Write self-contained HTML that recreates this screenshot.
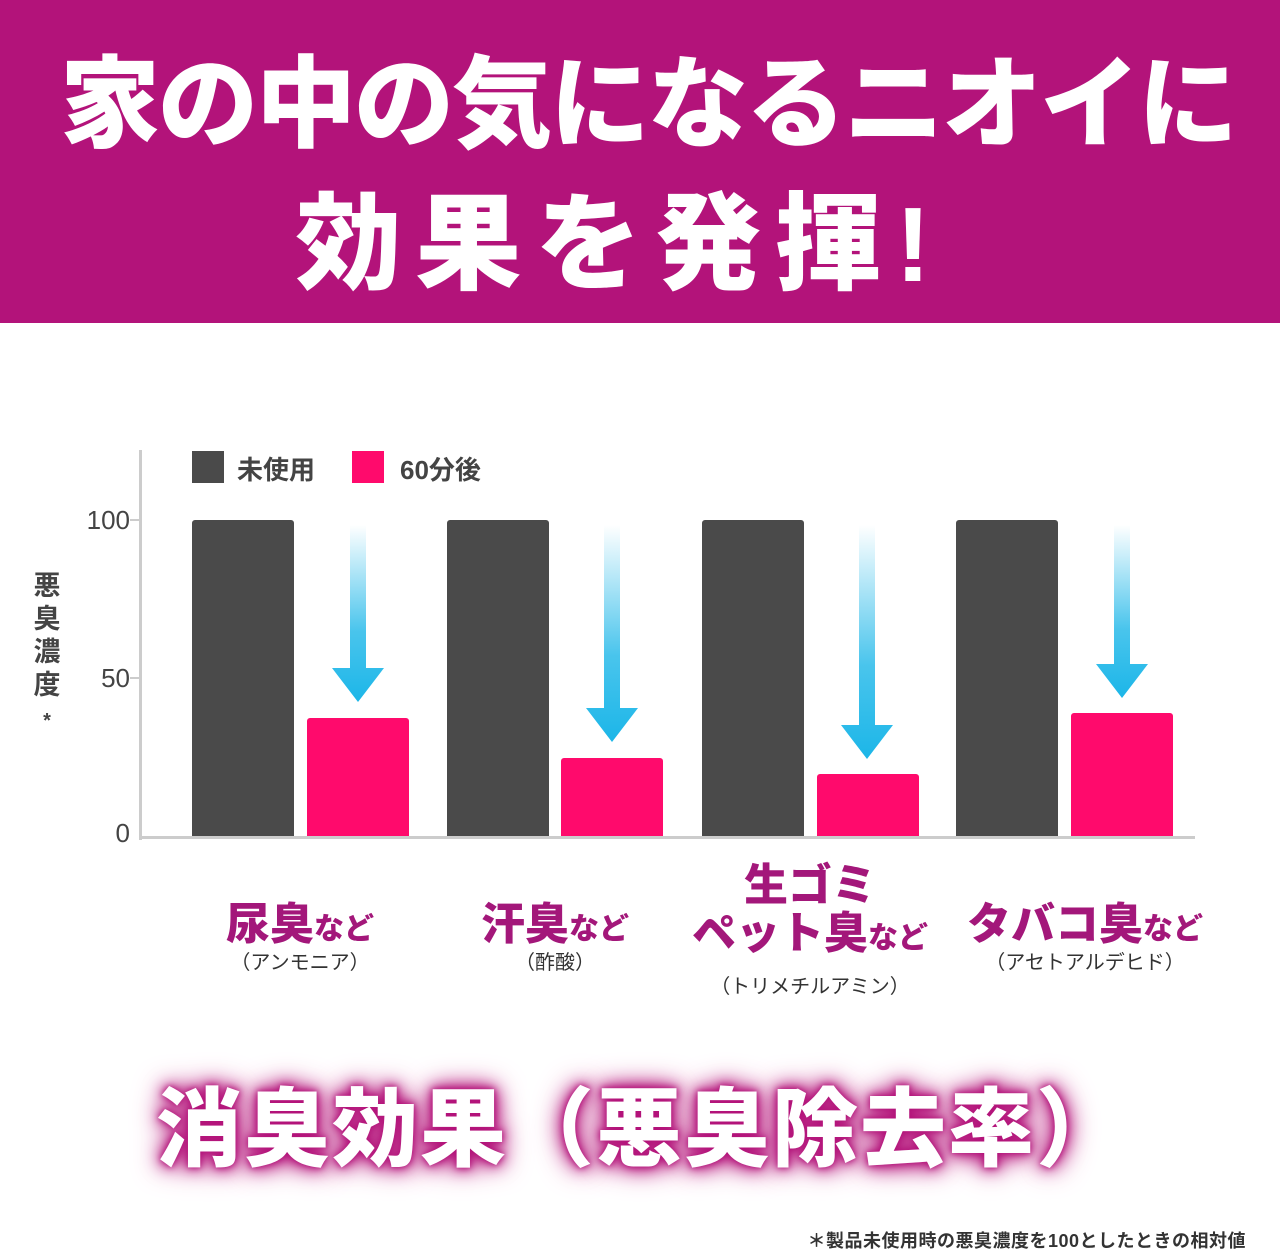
<!DOCTYPE html>
<html><head><meta charset="utf-8"><style>
*{margin:0;padding:0}
body{width:1280px;height:1250px;background:#fff;position:relative;overflow:hidden;font-family:"Liberation Sans","Noto Sans CJK JP",sans-serif}
.hdr{position:absolute;left:0;top:0;width:1280px;height:323px;background:#b3137a}
.t{position:absolute;left:0;width:1280px;text-align:center;color:#fff;font-weight:900;white-space:nowrap}
.abs{position:absolute}
.g{background:#4a4a4a;position:absolute;border-radius:3px 3px 0 0}
.p{background:#ff0a6c;position:absolute;border-radius:3px 3px 0 0}
.lab{position:absolute;text-align:center;color:#a3177a;font-weight:900;white-space:nowrap}
.sub{position:absolute;text-align:center;color:#333;font-size:20px;white-space:nowrap}
</style></head><body>
<div class="hdr"></div>
<div class="t" style="top:40px;font-size:100px;line-height:130px;letter-spacing:-2px;left:8px">家の中の気になるニオイに</div>
<div class="t" style="top:180px;font-size:106px;line-height:130px;letter-spacing:14px;left:-20px">効果を発揮!</div>

<div class="abs" style="left:139px;top:450px;width:3px;height:390px;background:#ccc"></div>
<div class="abs" style="left:139px;top:836px;width:1056px;height:3px;background:#ccc"></div>
<div class="abs" style="left:130px;top:519px;width:12px;height:2px;background:#ccc"></div>
<div class="abs" style="left:130px;top:677px;width:12px;height:2px;background:#ccc"></div>
<div class="abs" style="left:60px;top:505px;font-size:26px;color:#444;width:70px;text-align:right">100</div>
<div class="abs" style="left:60px;top:663px;font-size:26px;color:#444;width:70px;text-align:right">50</div>
<div class="abs" style="left:60px;top:818px;font-size:26px;color:#444;width:70px;text-align:right">0</div>
<div class="abs" style="left:32px;top:570px;width:30px;font-size:27px;line-height:33px;color:#444;font-weight:700;text-align:center">悪<br>臭<br>濃<br>度<br><span style="font-size:20px">*</span></div>

<div class="abs" style="left:192px;top:451px;width:32px;height:32px;background:#4a4a4a"></div>
<div class="abs" style="left:237px;top:450px;font-size:26px;color:#444;font-weight:700">未使用</div>
<div class="abs" style="left:352px;top:451px;width:32px;height:32px;background:#ff0a6c"></div>
<div class="abs" style="left:400px;top:450px;font-size:26px;color:#444;font-weight:700">60分後</div>

<div class="g" style="left:192px;top:520px;width:102px;height:316px"></div>
<div class="g" style="left:447px;top:520px;width:102px;height:316px"></div>
<div class="g" style="left:702px;top:520px;width:102px;height:316px"></div>
<div class="g" style="left:956px;top:520px;width:102px;height:316px"></div>
<div class="p" style="left:307px;top:718px;width:102px;height:118px"></div>
<div class="p" style="left:561px;top:758px;width:102px;height:78px"></div>
<div class="p" style="left:817px;top:774px;width:102px;height:62px"></div>
<div class="p" style="left:1071px;top:713px;width:102px;height:123px"></div>

<svg class="abs" style="left:0;top:0" width="1280" height="1250">
<defs><linearGradient id="ag" x1="0" y1="0" x2="0" y2="1"><stop offset="0" stop-color="#1cb6e8" stop-opacity="0"/><stop offset="0.6" stop-color="#1cb6e8" stop-opacity="0.8"/><stop offset="1" stop-color="#1cb6e8"/></linearGradient></defs>
<g fill="url(#ag)">
<polygon points="350,525 366,525 366,668 384,668 358,702 332,668 350,668"/>
<polygon points="604,525 620,525 620,708 638,708 612,742 586,708 604,708"/>
<polygon points="859,525 875,525 875,725 893,725 867,759 841,725 859,725"/>
<polygon points="1114,525 1130,525 1130,664 1148,664 1122,698 1096,664 1114,664"/>
</g></svg>

<div class="lab" style="left:200px;top:888px;width:200px;font-size:44px">尿臭<span style="font-size:30px">など</span></div>
<div class="sub" style="left:200px;top:946px;width:200px">（アンモニア）</div>
<div class="lab" style="left:455px;top:888px;width:200px;font-size:44px">汗臭<span style="font-size:30px">など</span></div>
<div class="sub" style="left:455px;top:946px;width:200px">（酢酸）</div>
<div class="lab" style="left:680px;top:862px;width:260px;font-size:44px;line-height:48px">生ゴミ<br>ペット臭<span style="font-size:30px">など</span></div>
<div class="sub" style="left:680px;top:970px;width:260px">（トリメチルアミン）</div>
<div class="lab" style="left:950px;top:888px;width:270px;font-size:44px">タバコ臭<span style="font-size:30px">など</span></div>
<div class="sub" style="left:950px;top:946px;width:270px">（アセトアルデヒド）</div>

<div class="t" style="top:1075px;font-size:86px;line-height:110px;letter-spacing:2px;text-shadow:0 0 6px #b3137a,0 0 12px #b3137a,0 0 20px #b3137a,0 0 30px #c0308a">消臭効果（悪臭除去率）</div>
<div class="abs" style="right:34px;top:1227px;font-size:18px;color:#333;font-weight:700;letter-spacing:0.5px">＊製品未使用時の悪臭濃度を100としたときの相対値</div>
</body></html>
